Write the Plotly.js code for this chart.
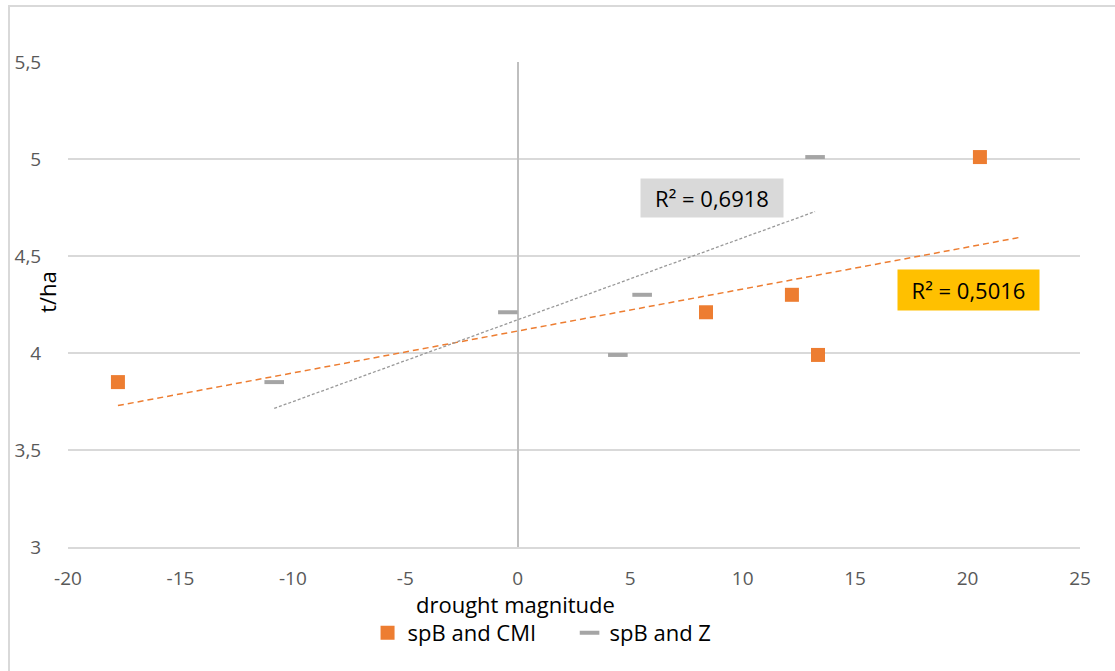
<!DOCTYPE html>
<html><head><meta charset="utf-8">
<script src="https://cdn.plot.ly/plotly-3.0.1.min.js"></script>
<style>body{margin:0;background:#fff;overflow:hidden}#frame{position:absolute;left:8px;top:5px;width:1200px;height:800px;border:2px solid #d9d9d9;pointer-events:none}#chart{position:absolute;left:0;top:0;width:1115px;height:671px}</style>
</head><body>
<div id="chart"></div><div id="frame"></div>
<script>
const cmiX = [-17.78, 8.37, 12.19, 13.35, 20.55];
const cmiY = [3.85, 4.21, 4.30, 3.99, 5.01];
const zX = [-10.83, -0.44, 4.45, 5.53, 13.22];
const zY = [3.85, 4.21, 3.99, 4.30, 5.01];
const cmiTrendRange = [-17.78, 22.42];
const zTrendRange = [-10.83, 13.22];
const r2Labels = ['R² = 0,5016', 'R² = 0,6918'];
const yTickVals = [3, 3.5, 4, 4.5, 5, 5.5];
const yTickText = ['3', '3,5', '4', '4,5', '5', '5,5'];
const xTickVals = [-20, -15, -10, -5, 0, 5, 10, 15, 20, 25];
const xTickText = ['-20', '-15', '-10', '-5', '0', '5', '10', '15', '20', '25'];

function fit(xs, ys) {
  const n = xs.length;
  const mx = xs.reduce((a,b)=>a+b,0)/n, my = ys.reduce((a,b)=>a+b,0)/n;
  let sxy=0, sxx=0;
  for (let i=0;i<n;i++){sxy+=(xs[i]-mx)*(ys[i]-my);sxx+=(xs[i]-mx)**2;}
  const b = sxy/sxx, a = my-b*mx;
  return x => a + b*x;
}
const fC = fit(cmiX, cmiY), fZ = fit(zX, zY);
const font = "'Open Sans', sans-serif";

const traces = [
  {x: cmiTrendRange, y: cmiTrendRange.map(fC), mode:'lines', showlegend:false, hoverinfo:'skip',
   line:{color:'#ed7d31', width:1.5, dash:'6px,4px'}},
  {x: zTrendRange, y: zTrendRange.map(fZ), mode:'lines', showlegend:false, hoverinfo:'skip',
   line:{color:'#999999', width:1.3, dash:'3px,2px'}},
  {x: cmiX, y: cmiY, mode:'markers', name:'spB and CMI', type:'scatter',
   marker:{symbol:'square', size:14, color:'#ed7d31', line:{width:0}}},
  {x: zX, y: zY, mode:'markers', name:'spB and Z', type:'scatter',
   marker:{symbol:'line-ew', size:14, color:'#a5a5a5', line:{width:4, color:'#a5a5a5'}}}
];

const layout = {
  width:1115, height:671,
  margin:{l:68, r:35, t:62, b:124},
  paper_bgcolor:'rgba(0,0,0,0)', plot_bgcolor:'#fff',
  font:{family:font, size:19, color:'#595959'},
  xaxis:{range:[-20,25], tickvals:xTickVals, ticktext:xTickText, showgrid:false, zeroline:true, zerolinecolor:'#bfbfbf', zerolinewidth:2,
    showline:true, linecolor:'#d9d9d9', linewidth:1.5, ticks:'outside', ticklen:14, tickcolor:'rgba(0,0,0,0)'},
  yaxis:{range:[3,5.5], tickvals:yTickVals, ticktext:yTickText, showgrid:true, gridcolor:'#d9d9d9', gridwidth:1.5,
    zeroline:false, showline:false, ticks:'outside', ticklen:22, tickcolor:'rgba(0,0,0,0)'},
  legend:{orientation:'h', x:0.296, xanchor:'left', y:-0.177, yanchor:'middle', font:{size:22, color:'#000'},
    itemwidth:30, entrywidth:157, entrywidthmode:'pixels'},
  annotations:[
    {x:0.4417, y:-0.117, xref:'paper', yref:'paper', text:'drought magnitude', showarrow:false,
     font:{size:22, color:'#000'}, xanchor:'center', yanchor:'middle'},
    {x:-0.0208, y:0.526, xref:'paper', yref:'paper', text:'t/ha', showarrow:false, textangle:-90,
     font:{size:22, color:'#000'}, xanchor:'center', yanchor:'middle'},
    {x:20.02, y:4.325, xref:'x', yref:'y', text:r2Labels[0], showarrow:false, bgcolor:'#ffc000',
     font:{size:22, color:'#000'}, borderpad:4, width:133, height:32},
    {x:8.64, y:4.80, xref:'x', yref:'y', text:r2Labels[1], showarrow:false, bgcolor:'#d9d9d9',
     font:{size:22, color:'#000'}, borderpad:4, width:134, height:30}
  ]
};
Plotly.newPlot('chart', traces, layout, {displayModeBar:false, staticPlot:true});
</script>
</body></html>
